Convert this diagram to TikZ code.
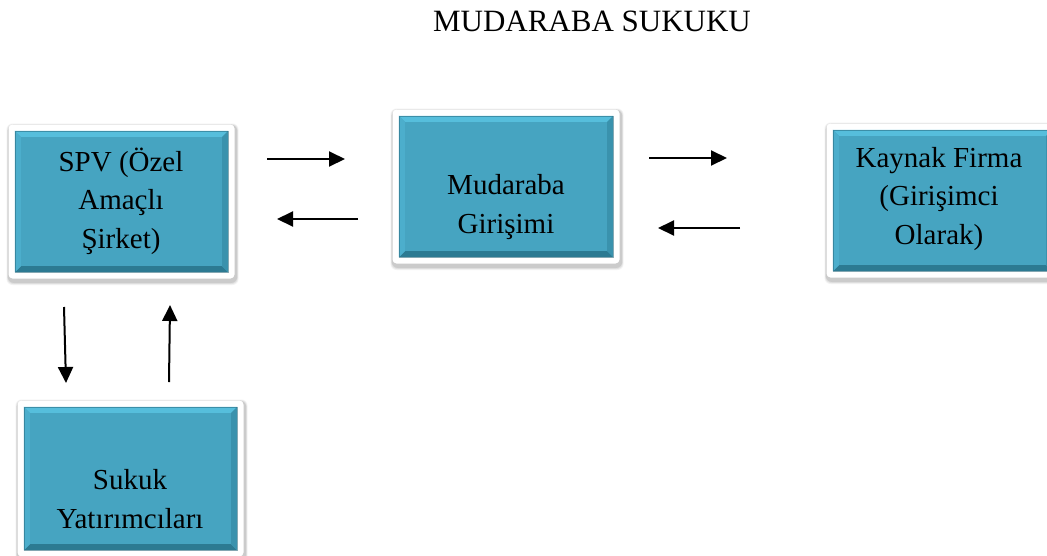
\documentclass[tikz,border=0pt]{standalone}
\usepackage{fontspec}
\setmainfont{Liberation Serif}
\usetikzlibrary{arrows.meta,fit}
\definecolor{tealmain}{RGB}{70,164,193}
\definecolor{tealtop}{RGB}{86,190,220}
\definecolor{tealleft}{RGB}{76,174,204}
\definecolor{tealright}{RGB}{58,146,173}
\definecolor{tealbot}{RGB}{44,122,146}
\tikzset{
  boxtext/.style={align=center, font=\fontsize{29}{38.5}\selectfont, inner sep=0pt, text=black},
  flow/.style={line width=2pt, -{Triangle[length=16pt,width=15pt]}},
  innerbox/.style={fit=#1, inner sep=0pt, fill=tealmain},
}
% \bevelbox{name}{x1}{y1}{x2}{y2}
\newcommand\bevelbox[5]{%
  \foreach \k/\o in {9/0.05,7/0.07,5/0.09}{%
    \fill[black,opacity=\o,rounded corners=6pt]
      ({#2-6.5-\k/3+1},{#3-6.5-\k/3+2}) rectangle ({#4+6.5+\k/3+1},{#5+6.5+\k/2+2});}
  \fill[white,rounded corners=4pt] ({#2-6.5},{#3-6.5}) rectangle ({#4+6.5},{#5+6.5});
  \coordinate (#1-a) at (#2,#3);
  \coordinate (#1-b) at (#4,#5);
  \node[innerbox={(#1-a)(#1-b)}] (#1) {};
  \fill[tealtop] (#1.north west) -- (#1.north east) -- ([xshift=-6pt,yshift=-6pt]#1.north east) -- ([xshift=6pt,yshift=-6pt]#1.north west) -- cycle;
  \fill[tealbot] (#1.south west) -- (#1.south east) -- ([xshift=-6pt,yshift=6pt]#1.south east) -- ([xshift=6pt,yshift=6pt]#1.south west) -- cycle;
  \fill[tealleft] (#1.north west) -- (#1.south west) -- ([xshift=6pt,yshift=6pt]#1.south west) -- ([xshift=6pt,yshift=-6pt]#1.north west) -- cycle;
  \fill[tealright] (#1.north east) -- (#1.south east) -- ([xshift=-6pt,yshift=6pt]#1.south east) -- ([xshift=-6pt,yshift=-6pt]#1.north east) -- cycle;
  \draw[tealbot!80!black,line width=0.4pt,opacity=0.5] (#1.north west) rectangle (#1.south east);
}
\begin{document}
\begin{tikzpicture}[x=1pt,y=-1pt]
\useasboundingbox (0,0) rectangle (1047,555);
\fill[white] (0,0) rectangle (1047,555);

\node[font=\fontsize{31}{36}\selectfont, inner sep=0pt] (title) at (592,21.5) {MUDARABA SUKUKU};

\bevelbox{spv}{15}{131}{228}{272}
\bevelbox{mud}{399}{116}{613}{257}
\bevelbox{kay}{833}{130}{1052}{271}
\bevelbox{suk}{24}{407}{237}{550}

\node[boxtext] (spvtext) at (121,201) {SPV (Özel\\Amaçlı\\Şirket)};
\node[boxtext] (mudtext) at (506,207) {Mudaraba\\Girişimi};
\node[boxtext] (kaytext) at (939,199) {Kaynak Firma\\(Girişimci\\Olarak)};
\node[boxtext] (suktext) at (130,499) {Sukuk\\Yatırımcıları};

\coordinate (a1s) at (267,159); \coordinate (a1e) at (345,159);
\coordinate (a2s) at (358,219); \coordinate (a2e) at (277,219);
\coordinate (a3s) at (649,158); \coordinate (a3e) at (727,158);
\coordinate (a4s) at (740,228); \coordinate (a4e) at (658,228);
\coordinate (a5s) at (64,307);  \coordinate (a5e) at (66,383);
\coordinate (a6s) at (169,382); \coordinate (a6e) at (170,305);

\draw[flow] (a1s) -- (a1e);
\draw[flow] (a2s) -- (a2e);
\draw[flow] (a3s) -- (a3e);
\draw[flow] (a4s) -- (a4e);
\draw[flow] (a5s) -- (a5e);
\draw[flow] (a6s) -- (a6e);
\end{tikzpicture}
\end{document}
